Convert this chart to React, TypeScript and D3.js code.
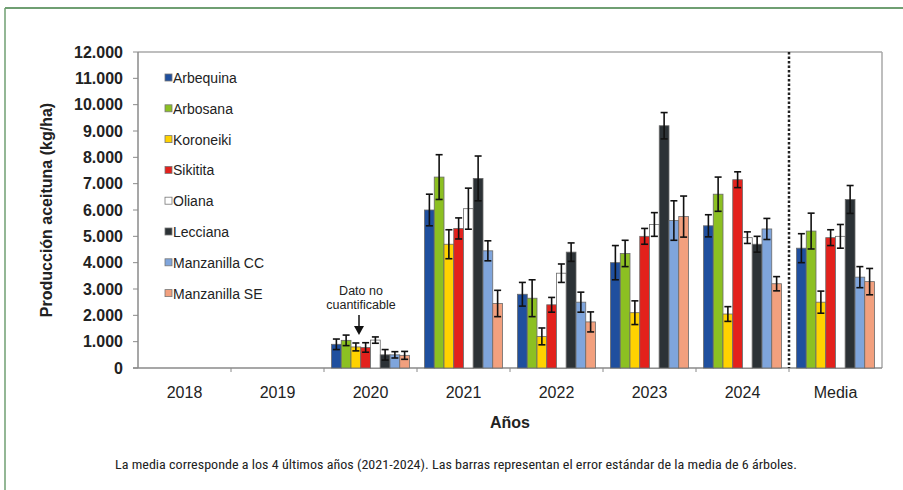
import React from "react";
import * as d3 from "d3";

const years = ["2018", "2019", "2020", "2021", "2022", "2023", "2024", "Media"];
const varieties = ["Arbequina", "Arbosana", "Koroneiki", "Sikitita", "Oliana", "Lecciana", "Manzanilla CC", "Manzanilla SE"];
const colors = ["#1f4f9e", "#8cc022", "#ffd200", "#e3211c", "#ffffff", "#2c3236", "#7fa5dc", "#f2a07e"];

// values in kg/ha per variety, per year (null = no data)
const arbequina = [null, null, 900, 6000, 2800, 4000, 5400, 4550];
const arbosana = [null, null, 1050, 7250, 2650, 4350, 6600, 5200];
const koroneiki = [null, null, 800, 4700, 1200, 2100, 2050, 2500];
const sikitita = [null, null, 780, 5300, 2400, 5000, 7150, 4950];
const oliana = [null, null, 1060, 6050, 3600, 5450, 4950, 5000];
const lecciana = [null, null, 500, 7200, 4400, 9200, 4700, 6400];
const manzanillaCC = [null, null, 500, 4450, 2500, 5600, 5280, 3450];
const manzanillaSE = [null, null, 480, 2450, 1750, 5750, 3200, 3280];

const errArbequina = [0, 0, 200, 600, 450, 650, 420, 550];
const errArbosana = [0, 0, 200, 850, 700, 500, 650, 680];
const errKoroneiki = [0, 0, 150, 550, 320, 450, 280, 420];
const errSikitita = [0, 0, 180, 400, 280, 300, 300, 300];
const errOliana = [0, 0, 120, 780, 350, 450, 220, 450];
const errLecciana = [0, 0, 200, 850, 350, 500, 300, 530];
const errManzanillaCC = [0, 0, 120, 380, 380, 750, 400, 400];
const errManzanillaSE = [0, 0, 150, 500, 380, 780, 270, 500];

const yTicks = [0, 1000, 2000, 3000, 4000, 5000, 6000, 7000, 8000, 9000, 10000, 11000, 12000];

const values = [arbequina, arbosana, koroneiki, sikitita, oliana, lecciana, manzanillaCC, manzanillaSE];
const errors = [errArbequina, errArbosana, errKoroneiki, errSikitita, errOliana, errLecciana, errManzanillaCC, errManzanillaSE];

const W = 903;
const H = 490;
const left = 138;
const right = 882;
const top = 52;
const bottom = 368;

const fmt = (v: number) => (v === 0 ? "0" : d3.format(",")(v).replace(/,/g, "."));

export default function App() {
  const x0 = d3.scaleBand<string>().domain(years).range([left, right]).paddingInner(0).paddingOuter(0);
  const x1 = d3
    .scaleBand<string>()
    .domain(varieties)
    .range([7.5, x0.bandwidth() - 7.5])
    .padding(0);
  const y = d3.scaleLinear().domain([0, 12000]).range([bottom, top]);
  const font = "'Liberation Sans', Arial, sans-serif";

  return (
    <svg width={W} height={H} style={{ position: "absolute", left: 0, top: 0 }} fontFamily={font}>
      <rect x={0} y={0} width={W} height={H} fill="#fff" />
      {/* outer frame */}
      <line x1={5} y1={8} x2={W} y2={8} stroke="#6f9f72" strokeWidth={2} />
      <line x1={5} y1={8} x2={5} y2={H} stroke="#6f9f72" strokeWidth={1.5} />

      {/* plot frame */}
      <line x1={left} y1={top} x2={right} y2={top} stroke="#a8a8a8" strokeWidth={1.5} />
      <line x1={right} y1={top} x2={right} y2={bottom} stroke="#a8a8a8" strokeWidth={1.5} />
      <line x1={left} y1={top} x2={left} y2={bottom} stroke="#8a8a8a" strokeWidth={1.5} />
      <line x1={left - 5} y1={bottom} x2={right} y2={bottom} stroke="#8a8a8a" strokeWidth={1.5} />

      {/* y ticks */}
      {yTicks.map((t) => (
        <g key={t}>
          <line x1={left - 5} x2={left} y1={y(t)} y2={y(t)} stroke="#8a8a8a" strokeWidth={1} />
          <text x={left - 15} y={y(t)} dy="0.35em" textAnchor="end" fontSize={16} fontWeight="bold" fill="#222">
            {fmt(t)}
          </text>
        </g>
      ))}

      {/* x ticks */}
      {years.map((yr, i) => (
        <g key={yr}>
          {i > 0 && (
            <line x1={x0(yr)!} x2={x0(yr)!} y1={bottom} y2={bottom + 4} stroke="#8a8a8a" strokeWidth={1} />
          )}
          <text
            x={x0(yr)! + x0.bandwidth() / 2}
            y={398}
            textAnchor="middle"
            fontSize={16}
            fill="#222"
          >
            {yr}
          </text>
        </g>
      ))}

      {/* bars */}
      {years.map((yr, i) => (
        <g key={"g" + yr} transform={`translate(${x0(yr)},0)`}>
          {varieties.map((v, k) => {
            const val = values[k][i];
            if (val == null) return null;
            const bx = x1(v)!;
            const bw = x1.bandwidth();
            const e = errors[k][i];
            const cx = bx + bw / 2;
            return (
              <g key={v}>
                <rect
                  x={bx}
                  y={y(val)}
                  width={bw}
                  height={bottom - y(val)}
                  fill={colors[k]}
                  stroke="#6a6a6a"
                  strokeWidth={0.8}
                />
                <line x1={cx} x2={cx} y1={y(val + e)} y2={y(val - e)} stroke="#111" strokeWidth={1.6} />
                <line x1={cx - 3.5} x2={cx + 3.5} y1={y(val + e)} y2={y(val + e)} stroke="#111" strokeWidth={1.6} />
                <line x1={cx - 3.5} x2={cx + 3.5} y1={y(val - e)} y2={y(val - e)} stroke="#111" strokeWidth={1.6} />
              </g>
            );
          })}
        </g>
      ))}

      {/* dotted separator */}
      <line
        x1={x0("Media")!}
        x2={x0("Media")!}
        y1={top}
        y2={bottom}
        stroke="#222"
        strokeWidth={2.5}
        strokeDasharray="2.5 2"
      />

      {/* legend */}
      {varieties.map((v, k) => {
        const ly = 78 + k * 30.8;
        return (
          <g key={"l" + v}>
            <rect x={165} y={ly - 4} width={7} height={7} fill={colors[k]} stroke="#777" strokeWidth={0.8} />
            <text x={173} y={ly} dy="0.35em" fontSize={14} fill="#222">
              {v}
            </text>
          </g>
        );
      })}

      {/* annotation */}
      <text x={361} y={295} textAnchor="middle" fontSize={12.5} fill="#222">
        Dato no
      </text>
      <text x={361} y={309} textAnchor="middle" fontSize={12.5} fill="#222">
        cuantificable
      </text>
      <line x1={359} x2={359} y1={315} y2={330} stroke="#111" strokeWidth={1.5} />
      <path d="M354,326 L359,335 L364,326 Z" fill="#111" />

      {/* axis titles */}
      <text
        transform={`translate(52,${(top + bottom) / 2}) rotate(-90)`}
        textAnchor="middle"
        fontSize={16}
        fontWeight="bold"
        fill="#222"
      >
        Producción aceituna (kg/ha)
      </text>
      <text x={(left + right) / 2} y={428} textAnchor="middle" fontSize={16} fontWeight="bold" fill="#222">
        Años
      </text>

      {/* footnote */}
      <text
        x={456}
        y={469}
        textAnchor="middle"
        fontSize={13.5}
        fill="#222"
        textLength={682}
        lengthAdjust="spacingAndGlyphs"
        fontFamily="'Liberation Sans Narrow', 'Roboto Condensed', Arial, sans-serif"
      >
        La media corresponde a los 4 últimos años (2021-2024). Las barras representan el error estándar de la media de 6 árboles.
      </text>
    </svg>
  );
}
